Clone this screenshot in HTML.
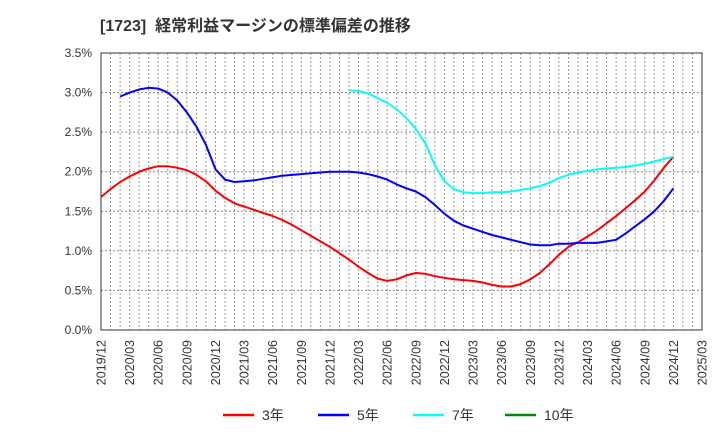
<!DOCTYPE html>
<html><head><meta charset="utf-8"><style>
body{margin:0;background:#fff;}
svg text{font-family:"Liberation Sans","Noto Sans CJK JP",sans-serif;}
</style></head><body>
<svg id="c" width="720" height="440" xmlns="http://www.w3.org/2000/svg">
<text x="100" y="31" font-size="16" font-weight="bold" fill="#333">[1723]&#160;&#160;経常利益マージンの標準偏差の推移</text>
<g id="grid"></g>
<g id="yt"></g>
<g id="xt"></g>
<g id="lines"></g>
<rect x="101" y="53" width="601" height="277" fill="none" stroke="#333" stroke-width="1"/>
<g>
<g><line x1="223" y1="415" x2="254" y2="415" stroke="#f00" stroke-width="2.5"/><text x="262" y="420" font-size="14" fill="#333">3年</text></g>
<g><line x1="318" y1="415" x2="349" y2="415" stroke="#00f" stroke-width="2.5"/><text x="357" y="420" font-size="14" fill="#333">5年</text></g>
<g><line x1="413" y1="415" x2="444" y2="415" stroke="#0ff" stroke-width="2.5"/><text x="452" y="420" font-size="14" fill="#333">7年</text></g>
<g><line x1="505" y1="415" x2="536" y2="415" stroke="#080" stroke-width="2.5"/><text x="544" y="420" font-size="14" fill="#333">10年</text></g>
</g>
</svg>
<script>
const yTicks=[0,0.5,1.0,1.5,2.0,2.5,3.0,3.5];
const xLabels=["2019/12","2020/03","2020/06","2020/09","2020/12","2021/03","2021/06","2021/09","2021/12","2022/03","2022/06","2022/09","2022/12","2023/03","2023/06","2023/09","2023/12","2024/03","2024/06","2024/09","2024/12","2025/03"];
const s3Start=0;
const s3=[1.68,1.78,1.87,1.94,2.0,2.04,2.07,2.07,2.05,2.02,1.96,1.88,1.76,1.67,1.6,1.56,1.52,1.48,1.44,1.39,1.33,1.26,1.19,1.12,1.05,0.97,0.89,0.8,0.72,0.65,0.62,0.64,0.69,0.72,0.71,0.68,0.66,0.64,0.63,0.62,0.6,0.57,0.55,0.55,0.58,0.64,0.72,0.83,0.95,1.05,1.11,1.18,1.26,1.35,1.44,1.54,1.64,1.75,1.89,2.05,2.19];
const s5Start=2;
const s5=[2.95,3.0,3.04,3.06,3.05,3.0,2.9,2.75,2.57,2.34,2.03,1.9,1.87,1.88,1.89,1.91,1.93,1.95,1.96,1.97,1.98,1.99,2.0,2.0,2.0,1.99,1.97,1.94,1.9,1.84,1.79,1.75,1.68,1.58,1.47,1.38,1.32,1.28,1.24,1.2,1.17,1.14,1.11,1.08,1.07,1.07,1.09,1.09,1.1,1.1,1.1,1.12,1.14,1.22,1.31,1.4,1.5,1.63,1.79];
const s7Start=26;
const s7=[3.03,3.02,2.99,2.93,2.87,2.79,2.68,2.54,2.36,2.08,1.88,1.78,1.74,1.73,1.73,1.74,1.74,1.75,1.77,1.79,1.82,1.86,1.92,1.96,1.99,2.01,2.03,2.04,2.05,2.06,2.08,2.1,2.13,2.16,2.19];
const NS="http://www.w3.org/2000/svg";
const X0=101,X1=702,Y0=330,Y1=53,NM=63;
const xs=m=>X0+(X1-X0)*m/NM;
const ys=v=>Y0-(Y0-Y1)*v/3.5;
const grid=document.getElementById('grid'),yt=document.getElementById('yt'),xt=document.getElementById('xt'),lines=document.getElementById('lines');
function mk(t,a){const e=document.createElementNS(NS,t);for(const k in a)e.setAttribute(k,a[k]);return e;}
for(let m=1;m<NM;m++){const l=mk('line',{x1:xs(m),x2:xs(m),y1:Y1,y2:Y0,stroke:'#999','stroke-dasharray':'2,2','stroke-width':1});

grid.appendChild(l);}
yTicks.forEach(v=>{
if(v>0&&v<3.5){const l=mk('line',{x1:X0,x2:X1,y1:ys(v),y2:ys(v),stroke:'#888','stroke-dasharray':'2,2','stroke-width':1});

grid.appendChild(l);}
const t=mk('text',{x:92,y:ys(v)+4,'text-anchor':'end','font-size':12,fill:'#333'});t.textContent=v.toFixed(1)+'%';

yt.appendChild(t);});
xLabels.forEach((s,i)=>{const x=xs(i*3);const t=mk('text',{transform:`translate(${x+4.5},340) rotate(-90)`,'text-anchor':'end','font-size':12.5,fill:'#333'});t.textContent=s;

xt.appendChild(t);});
function series(arr,start,col,name){const d=arr.map((v,i)=>(i?'L':'M')+xs(start+i).toFixed(1)+','+ys(v).toFixed(1)).join('');
const p=mk('path',{d:d,fill:'none',stroke:col,'stroke-width':2,'stroke-linejoin':'round'});

lines.appendChild(p);}
series(s3,s3Start,'#f00','line-3y');
series(s5,s5Start,'#00f','line-5y');
series(s7,s7Start,'#0ff','line-7y');
</script>
</body></html>
